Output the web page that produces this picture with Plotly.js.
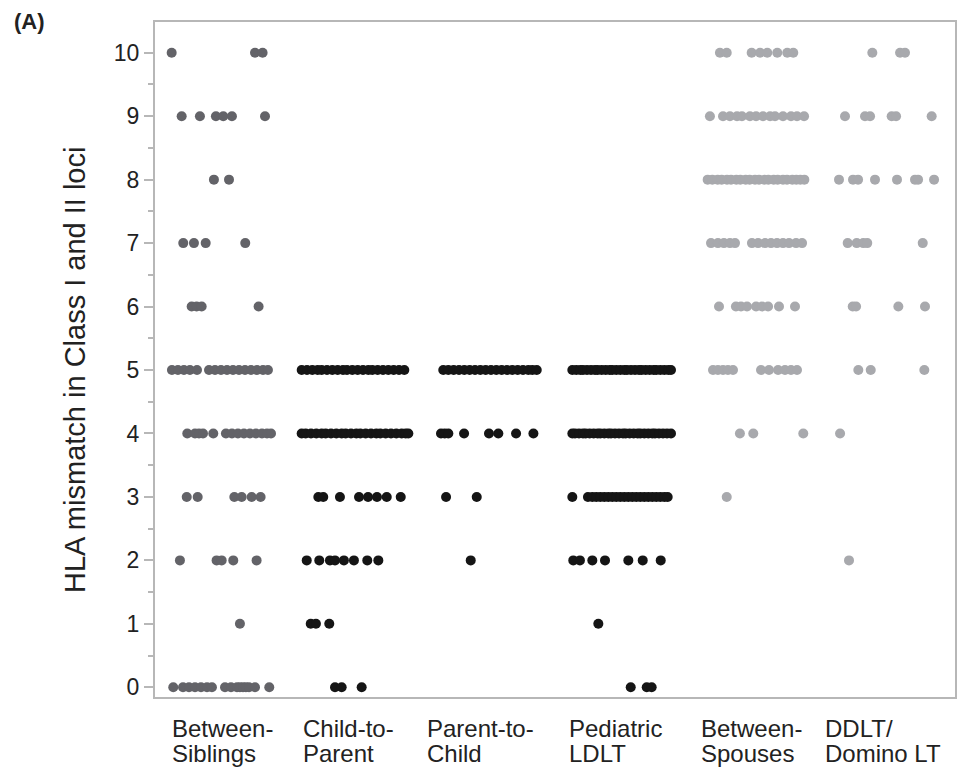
<!DOCTYPE html>
<html>
<head>
<meta charset="utf-8">
<script src="https://cdn.plot.ly/plotly-3.0.1.min.js"></script>
<style>html,body{margin:0;padding:0;background:#fff;}</style>
</head>
<body>
<div id="chart" style="width:957px;height:771px;"></div>
<script>
// Categories and their two-line labels
const categories = ["Between-Siblings", "Child-to-Parent", "Parent-to-Child", "Pediatric LDLT", "Between-Spouses", "DDLT/Domino LT"];
const labelTop = ["Between-", "Child-to-", "Parent-to-", "Pediatric", "Between-", "DDLT/"];
const labelBottom = ["Siblings", "Parent", "Child", "LDLT", "Spouses", "Domino LT"];
const yTicks = [0, 1, 2, 3, 4, 5, 6, 7, 8, 9, 10];

// Each row: [HLA mismatch level, horizontal jitter of each point in hundredths of a category slot]
const siblingsRows = [
  [10, [-37.5, 25, 30.7]],
  [9, [-30, -16.3, -4.3, 1.2, 7.7, 32.5]],
  [8, [-5.8, 5.5]],
  [7, [-28.8, -20.8, -12, 17.7]],
  [6, [-22.5, -18.8, -15, 27.7]],
  [5, [-37.3, -32.8, -28.3, -23.8, -18.5, -9.5, -5, -0.5, 4, 8.5, 13, 17.5, 22, 26.5, 31, 34.7]],
  [4, [-25.8, -20, -17, -14, -6.3, 3.2, 7.7, 12.2, 16.7, 21.2, 25.7, 30.2, 34, 37]],
  [3, [-26.2, -18, 9.5, 15, 22.5, 29.2]],
  [2, [-31.3, -3.8, 0, 8.7, 26.2]],
  [1, [13.7]],
  [0, [-36.3, -29, -24.5, -20, -15.5, -11, -7.3, 2.5, 7, 11.5, 13.7, 16, 18.2, 20.5, 25, 35.7]]
];
const childToParentRows = [
  [5, [-40, -36, -32, -28, -25, -21, -17, -13, -9, -6, -2, 2, 6, 10, 13, 17, 21, 25, 29, 33, 37]],
  [4, [-40, -37, -33, -29, -25, -22, -18, -14, -10, -7, -3, 1, 4, 8, 12, 16, 19, 23, 27, 31, 35, 38, 40]],
  [3, [-27.5, -23.8, -11.3, 3, 9.8, 16.5, 23.8, 34.3]],
  [2, [-36.2, -26.8, -18.8, -15, -8.3, -0.8, 9.2, 17.5]],
  [1, [-33.2, -29.3, -19.3]],
  [0, [-15, -10, 5]]
];
const parentToChildRows = [
  [5, [-33.8, -30, -26, -22, -18, -14, -10, -6, -2, 2, 6, 10, 14, 18, 22, 26, 30, 33, 36.3]],
  [4, [-35.5, -32.7, -30, -18.2, 0.5, 7.5, 20.8, 33.8]],
  [3, [-31.7, -8.7]],
  [2, [-13.2]]
];
const pediatricRows = [
  [5, [-37, -34, -31, -29, -26, -23, -20, -18, -15, -12, -9, -7, -4, -1, 2, 4, 7, 10, 13, 15, 18, 21, 24, 26, 29, 32, 35, 37]],
  [4, [-37, -35, -32, -29, -27, -24, -21, -18, -16, -13, -10, -8, -5, -2, 1, 3, 6, 9, 12, 14, 17, 20, 23, 25, 28, 31, 34, 37]],
  [3, [-37, -25.3, -22, -19, -16, -13, -10, -7, -4, -1, 2, 5, 8, 11, 14, 17, 20, 23, 26, 29, 32, 34.5]],
  [2, [-36.3, -31.3, -22, -12.5, 5, 15.8, 29.3]],
  [1, [-17.5]],
  [0, [6.8, 18.8, 22.5]]
];
const spousesRows = [
  [10, [-26.3, -21.2, -2.5, 3.8, 9.2, 16.7, 24.2, 28.7]],
  [9, [-33.8, -24, -18.8, -13.5, -9.8, -3.8, 0.8, 6, 11.3, 15, 21, 27, 31.5, 36.8]],
  [8, [-35.5, -32, -28, -25, -21, -18, -14, -11, -7, -4, 0, 3, 7, 10, 14, 17, 21, 24, 28, 31, 34, 37]],
  [7, [-33, -27.8, -23.3, -18.8, -15, -2.3, 2.3, 7.5, 12, 16.5, 21, 25.5, 30.8, 35.3]],
  [6, [-27, -14.3, -10.5, -6, 0.8, 5.3, 9.8, 18, 30]],
  [5, [-31.5, -27.8, -24, -20.3, -16.5, 4.5, 10.5, 17.3, 22.5, 27, 31.5]],
  [4, [-11.3, -1.3, 36.2]],
  [3, [-21.2]]
];
const ddltRows = [
  [10, [-12, 8.8, 12.5]],
  [9, [-32.5, -17.5, -13.7, 2.5, 5.8, 32.5]],
  [8, [-37, -26.5, -22.7, -10, 6.5, 20, 22.3, 34.3]],
  [7, [-30.5, -23.7, -18.8, -15.8, 25.8]],
  [6, [-26.7, -24.2, 7.5, 27.5]],
  [5, [-22.5, -13.2, 27]],
  [4, [-36.2]],
  [2, [-29.5]]
];
const allRows = [siblingsRows, childToParentRows, parentToChildRows, pediatricRows, spousesRows, ddltRows];
const markerColors = ["#636368", "#151515", "#151515", "#151515", "#a8a9ad", "#a8a9ad"];

const traces = allRows.map((rows, ci) => {
  const xs = [], ys = [];
  rows.forEach(([level, offs]) => {
    offs.forEach(o => { xs.push(ci + o / 100); ys.push(level); });
  });
  return {
    type: "scatter", mode: "markers", name: categories[ci],
    x: xs, y: ys,
    marker: { size: 10, color: markerColors[ci], line: { width: 0 } },
    hoverinfo: "skip"
  };
});

const FONT = "Liberation Sans, Arial, Helvetica, sans-serif";
const frame = "#b7b7b7";
// left edge of each two-line label relative to its category centre (px)
const labelShift = [-52, -54, -63, -55, -56, -65];
const annotations = [];
categories.forEach((c, i) => {
  annotations.push({ xref: "x", yref: "paper", x: i, y: 0, xanchor: "left", yanchor: "middle",
    xshift: labelShift[i], yshift: -31, text: labelTop[i], showarrow: false,
    font: { family: FONT, size: 24, color: "#222" } });
  annotations.push({ xref: "x", yref: "paper", x: i, y: 0, xanchor: "left", yanchor: "middle",
    xshift: labelShift[i], yshift: -56, text: labelBottom[i], showarrow: false,
    font: { family: FONT, size: 24, color: "#222" } });
});
annotations.push({ xref: "paper", yref: "y", x: 0, y: 5, xshift: -80, xanchor: "center", yanchor: "middle",
  text: "HLA mismatch in Class I and II loci", textangle: -90, showarrow: false,
  font: { family: FONT, size: 29, color: "#222" } });
annotations.push({ xref: "paper", yref: "paper", x: 0, y: 1, xshift: -143, yshift: 15, xanchor: "left", yanchor: "top",
  text: "<b>(A)</b>", showarrow: false, font: { family: FONT, size: 22, color: "#222" } });

const layout = {
  width: 957, height: 771,
  margin: { l: 155, r: 2, t: 22, b: 74, pad: 0 },
  paper_bgcolor: "#ffffff", plot_bgcolor: "#ffffff",
  showlegend: false, hovermode: false,
  xaxis: { range: [-0.5, 5.5], showticklabels: false, ticks: "", showgrid: false, zeroline: false,
    showline: true, mirror: true, linecolor: frame, linewidth: 2, fixedrange: true },
  yaxis: { range: [-0.153, 10.484], tickmode: "array", tickvals: yTicks, ticktext: yTicks.map(String),
    ticks: "outside", ticklen: 9, tickwidth: 2, tickcolor: frame,
    minor: { tickmode: "linear", tick0: 0, dtick: 0.5, ticks: "outside", ticklen: 5, tickwidth: 2, tickcolor: frame, showgrid: false },
    showgrid: false, zeroline: false, showline: true, mirror: true, linecolor: frame, linewidth: 2,
    tickfont: { family: FONT, size: 23, color: "#222" }, fixedrange: true },
  annotations: annotations
};

Plotly.newPlot("chart", traces, layout, { displayModeBar: false, staticPlot: true });
</script>
</body>
</html>
